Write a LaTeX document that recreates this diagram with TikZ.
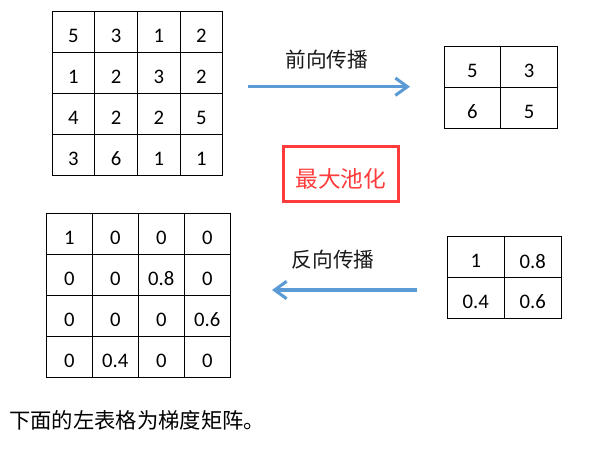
\documentclass[tikz,border=0pt]{standalone}
\usepackage{fontspec}
\setmainfont{Carlito}
\newfontfamily\cjk{Noto Sans CJK SC}
\usetikzlibrary{arrows.meta}
\definecolor{arrblue}{RGB}{91,155,213}
\definecolor{boxred}{RGB}{255,59,59}
\newcommand{\lowr}[2]{\raisebox{-#1}[\height][\depth]{#2}}
\tikzset{
  cellbox/.style={draw=black,line width=0.75pt,inner sep=0pt,anchor=center,font=\fontsize{15.5}{18}\selectfont},
  flowarr/.style={draw=arrblue,line width=2.3pt,-{Straight Barb[length=9pt,width=13pt,line width=2.3pt]}},
  cjklabel/.style={font=\cjk\fontsize{15.5}{18}\selectfont,text=black!90,inner sep=0pt},
  titlebox/.style={draw=boxred,line width=2.3pt,text=boxred,font=\cjk\fontsize{17}{20}\selectfont,inner sep=0pt,minimum width=86pt,minimum height=41pt}
}
\begin{document}
\begin{tikzpicture}[x=0.75pt,y=-0.75pt]
\useasboundingbox (0,0) rectangle (594,458);
% top-left 4x4
\foreach \r/\row in {1/{5,3,1,2},2/{1,2,3,2},3/{4,2,2,5},4/{3,6,1,1}}{
  \foreach \v [count=\c] in \row {
    \node[cellbox,minimum width=42.7*0.75pt,minimum height=40.9*0.75pt]
      (tl-\r-\c) at ({52+42.7*(\c-0.5)},{11.7+40.9*(\r-0.5)}) {\lowr{3pt}{\v}};
  }
}
% top-right 2x2
\foreach \r/\row in {1/{5,3},2/{6,5}}{
  \foreach \v [count=\c] in \row {
    \node[cellbox,minimum width=56.7*0.75pt,minimum height=41*0.75pt]
      (tr-\r-\c) at ({444+56.7*(\c-0.5)},{46+41*(\r-0.5)}) {\lowr{3pt}{\v}};
  }
}
% bottom-left 4x4
\foreach \r/\row in {1/{1,0,0,0},2/{0,0,0.8,0},3/{0,0,0,0.6},4/{0,0.4,0,0}}{
  \foreach \v [count=\c] in \row {
    \node[cellbox,minimum width=46*0.75pt,minimum height=41*0.75pt]
      (bl-\r-\c) at ({46.3+46*(\c-0.5)},{213.3+41*(\r-0.5)}) {\lowr{3pt}{\v}};
  }
}
% bottom-right 2x2
\foreach \r/\row in {1/{1,0.8},2/{0.4,0.6}}{
  \foreach \v [count=\c] in \row {
    \node[cellbox,minimum width=57*0.75pt,minimum height=40.8*0.75pt]
      (br-\r-\c) at ({447.3+57*(\c-0.5)},{236.7+40.8*(\r-0.5)}) {\lowr{3pt}{\v}};
  }
}
% arrows
\coordinate (fa-s) at (248,86.7);
\coordinate (fa-e) at (410,86.7);
\draw[flowarr] (fa-s) -- (fa-e);
\node[cjklabel] (fwd) at (326.7,59.5) {前向传播};
\coordinate (ba-s) at (417,290);
\coordinate (ba-e) at (272,290);
\draw[flowarr] (ba-s) -- (ba-e);
\node[cjklabel] (bwd) at (333.3,259.5) {反向传播};
% title box
\node[titlebox] (title) at (340.8,174) {\lowr{3.3pt}{最大池化}};
% bottom note
\node[cjklabel,anchor=west,font=\cjk\fontsize{16}{19}\selectfont,text=black] (note) at (9,420) {下面的左表格为梯度矩阵。};
\end{tikzpicture}
\end{document}
